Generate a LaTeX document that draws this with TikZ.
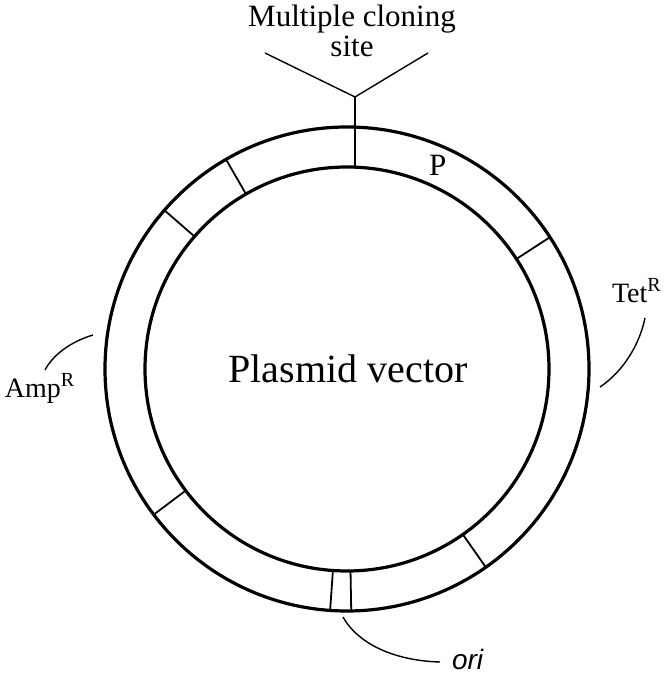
\documentclass[tikz,border=0pt]{standalone}
\usepackage{fontspec}
\setmainfont{Liberation Serif}
\newfontfamily\orifont{Liberation Sans}
\newcommand{\supR}{\raisebox{0.42em}{\fontsize{20}{20}\selectfont R}}
\begin{document}
\begin{tikzpicture}[x=1pt,y=1pt,
  ring/.style={circle,draw,line width=3.2pt,inner sep=0pt,outer sep=0pt},
  divider/.style={line width=1.8pt},
  leader/.style={line width=1.4pt},
  lbl/.style={inner sep=0pt,outer sep=0pt,font=\fontsize{28}{30}\selectfont},
]
\useasboundingbox (0,0) rectangle (670,677);
% rings
\node[ring,minimum size=484pt] (outer) at (347,308) {};
\node[ring,minimum size=404pt] (inner) at (347,308) {};
\node[inner sep=0pt,anchor=base,font=\fontsize{40}{44}\selectfont] (pv) at (348,294) {Plasmid vector};
% dividers
\foreach \a in {120,139,217,266.7,271,305,33}
  \draw[divider] (outer.\a) -- (inner.\a);
% multiple cloning site
\coordinate (mcsIn) at (355,510);
\coordinate (mcsJ) at (355,580);
\coordinate (mcsL) at (265,624);
\coordinate (mcsR) at (428,624);
\draw[divider] (mcsIn) -- (mcsJ);
\draw[leader] (mcsL) -- (mcsJ) -- (mcsR);
\node[inner sep=0pt,anchor=base,font=\fontsize{31}{30}\selectfont] (mcs1) at (352,650) {Multiple cloning};
\node[inner sep=0pt,anchor=base,font=\fontsize{31}{30}\selectfont] (mcs2) at (352,620) {site};
% P
\node[lbl,anchor=base west,font=\fontsize{31}{32}\selectfont] (p) at (429,501) {P};
% AmpR
\node[lbl,anchor=base west] (amp) at (5,279) {Amp\supR};
\coordinate (ampA) at (93,342);
\coordinate (ampB) at (45,307);
\draw[leader] (ampA) .. controls (70,335) and (53,322) .. (ampB);
% TetR
\node[lbl,anchor=base west] (tet) at (612,374) {Tet\supR};
\coordinate (tetA) at (600,290);
\coordinate (tetB) at (645,359);
\draw[leader] (tetA) .. controls (624,306) and (640,334) .. (tetB);
% ori
\node[lbl,anchor=base west,font=\orifont\itshape\fontsize{28}{30}\selectfont] (ori) at (452,7) {ori};
\coordinate (oriA) at (343,60);
\coordinate (oriB) at (440,15);
\draw[leader] (oriA) .. controls (360,30) and (400,16) .. (oriB);
\end{tikzpicture}
\end{document}
